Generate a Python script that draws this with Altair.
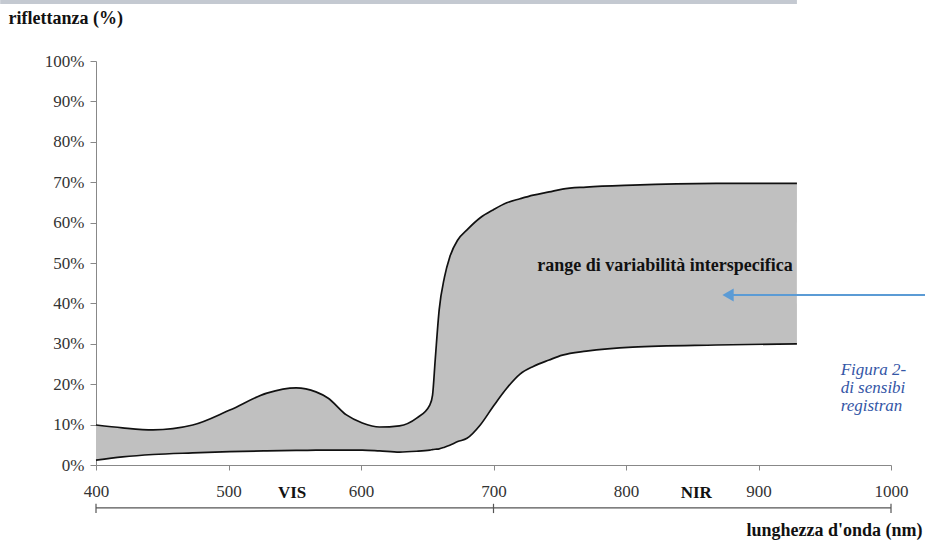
import altair as alt
import pandas as pd

# --- data ---
wavelength = [400, 420, 443, 473, 501, 529, 551, 566, 575, 589, 601, 614, 629, 642, 652,
              654, 656, 659, 663, 667, 673, 680, 690, 700, 710, 720, 730, 742, 752, 770,
              805, 868, 929]
upper = [9.9, 9.2, 8.7, 9.9, 13.6, 17.8, 19.1, 18.1, 16.6, 12.4, 10.4, 9.4, 9.7, 11.6, 14.9,
         17.3, 26.0, 38.4, 46.5, 51.5, 55.7, 58.2, 61.2, 63.2, 64.9, 65.9, 66.8, 67.6, 68.3, 68.8,
         69.3, 69.7, 69.7]
lower = [1.2, 2.0, 2.6, 3.0, 3.3, 3.5, 3.6, 3.7, 3.7, 3.7, 3.7, 3.5, 3.2, 3.4, 3.7,
         3.8, 3.9, 4.0, 4.4, 4.9, 5.8, 6.6, 9.9, 14.6, 19.0, 22.5, 24.4, 26.0, 27.2, 28.2,
         29.2, 29.7, 30.0]

x_ticks = [400, 500, 600, 700, 800, 900, 1000]
y_ticks = [0, 10, 20, 30, 40, 50, 60, 70, 80, 90, 100]

band_labels = ["VIS", "NIR"]
band_pos = [548, 853]
bracket_ticks = [400, 700, 1000]

range_label = ["range di variabilità interspecifica"]
caption_lines = ["Figura 2-", "di  sensibi", "registran"]
caption_y = [23.6, 19.1, 14.6]

SERIF = "Liberation Serif"

df = pd.DataFrame({"wl": wavelength, "up": upper, "lo": lower})

xs = alt.Scale(domain=[400, 1000], nice=False, zero=False)
ys = alt.Scale(domain=[0, 100], nice=False, zero=False)

x_axis = alt.Axis(values=x_ticks, format="d", title="lunghezza d'onda (nm)", grid=False,
                  labelFont=SERIF, labelFontSize=17, labelColor="#333333",
                  labelPadding=13, tickSize=5, tickColor="#888888",
                  domainColor="#888888", labelFlush=False,
                  titleFont=SERIF, titleFontSize=18, titleFontWeight="bold",
                  titleColor="#111111", titleAnchor="end", titleAlign="right",
                  titleX=826, titleY=65, titleBaseline="middle")
y_axis = alt.Axis(values=y_ticks, title="riflettanza (%)", grid=False,
                  labelExpr="datum.value + '%'",
                  labelFont=SERIF, labelFontSize=17, labelColor="#333333",
                  labelPadding=6, tickSize=6, tickColor="#888888",
                  domainColor="#888888",
                  titleFont=SERIF, titleFontSize=18, titleFontWeight="bold",
                  titleColor="#111111", titleAngle=0, titleAlign="left",
                  titleBaseline="middle", titleX=-88, titleY=-43)

base = alt.Chart(df)

area = base.mark_area(color="#c0c0c0", opacity=1, interpolate="monotone").encode(
    x=alt.X("wl:Q", scale=xs, axis=x_axis),
    y=alt.Y("up:Q", scale=ys, axis=y_axis),
    y2="lo:Q",
)
line_up = base.mark_line(color="#111111", strokeWidth=1.7, interpolate="monotone").encode(
    x=alt.X("wl:Q", scale=xs), y=alt.Y("up:Q", scale=ys))
line_lo = base.mark_line(color="#111111", strokeWidth=1.7, interpolate="monotone").encode(
    x=alt.X("wl:Q", scale=xs), y=alt.Y("lo:Q", scale=ys))

# top header stripe
stripe = alt.Chart(pd.DataFrame({"x": [327.7], "x2": [929], "y": [115.1], "y2": [114.1]})).mark_rect(
    color="#c4c9d1").encode(x=alt.X("x:Q", scale=xs), x2="x2:Q", y=alt.Y("y:Q", scale=ys), y2="y2:Q")

range_text = alt.Chart(pd.DataFrame({"t": range_label, "x": [733], "y": [49.3]})).mark_text(
    font=SERIF, fontSize=18, fontWeight="bold", align="left", baseline="middle", color="#111111"
).encode(x=alt.X("x:Q", scale=xs), y=alt.Y("y:Q", scale=ys), text="t:N")

cover = alt.Chart(pd.DataFrame({"x": [929], "x2": [1040], "y": [40], "y2": [60]})).mark_rect(
    color="white").encode(x=alt.X("x:Q", scale=xs), x2="x2:Q", y=alt.Y("y:Q", scale=ys), y2="y2:Q")

arrow_line = alt.Chart(pd.DataFrame({"x": [878], "x2": [1040], "y": [42.1]})).mark_rule(
    color="#5b9bd5", strokeWidth=2).encode(x=alt.X("x:Q", scale=xs), x2="x2:Q", y=alt.Y("y:Q", scale=ys))
arrow_head = alt.Chart(pd.DataFrame({"x": [877], "y": [42.1]})).mark_point(
    shape="triangle-left", filled=True, color="#5b9bd5", size=170, opacity=1).encode(
    x=alt.X("x:Q", scale=xs), y=alt.Y("y:Q", scale=ys))

caption = alt.Chart(pd.DataFrame({"t": caption_lines, "x": [962] * 3, "y": caption_y})).mark_text(
    font=SERIF, fontSize=17, fontStyle="italic", align="left", baseline="middle", color="#3456a6"
).encode(x=alt.X("x:Q", scale=xs), y=alt.Y("y:Q", scale=ys), text="t:N")

bands = alt.Chart(pd.DataFrame({"t": band_labels, "x": band_pos, "y": [-6.9, -6.9]})).mark_text(
    font=SERIF, fontSize=17, fontWeight="bold", align="center", baseline="middle", color="#111111"
).encode(x=alt.X("x:Q", scale=xs), y=alt.Y("y:Q", scale=ys), text="t:N")

bracket = alt.Chart(pd.DataFrame({"x": [400], "x2": [1000], "y": [-10.6]})).mark_rule(
    color="#555555", strokeWidth=1.2).encode(x=alt.X("x:Q", scale=xs), x2="x2:Q", y=alt.Y("y:Q", scale=ys))
bracket_t = alt.Chart(pd.DataFrame({"x": bracket_ticks, "y": [-9.6] * 3, "y2": [-11.9] * 3})).mark_rule(
    color="#555555", strokeWidth=1.2).encode(x=alt.X("x:Q", scale=xs), y=alt.Y("y:Q", scale=ys), y2="y2:Q")

chart = alt.layer(
    stripe, area, line_up, line_lo, range_text, cover, arrow_line, arrow_head,
    caption, bands, bracket, bracket_t
).properties(
    width=795, height=404,
    autosize=alt.AutoSizeParams(type="none"),
    padding={"left": 96, "top": 61, "right": 34, "bottom": 80},
    background="white",
).configure_view(stroke=None)

chart.save("out.html", embed_options={"renderer": "svg", "actions": False})
